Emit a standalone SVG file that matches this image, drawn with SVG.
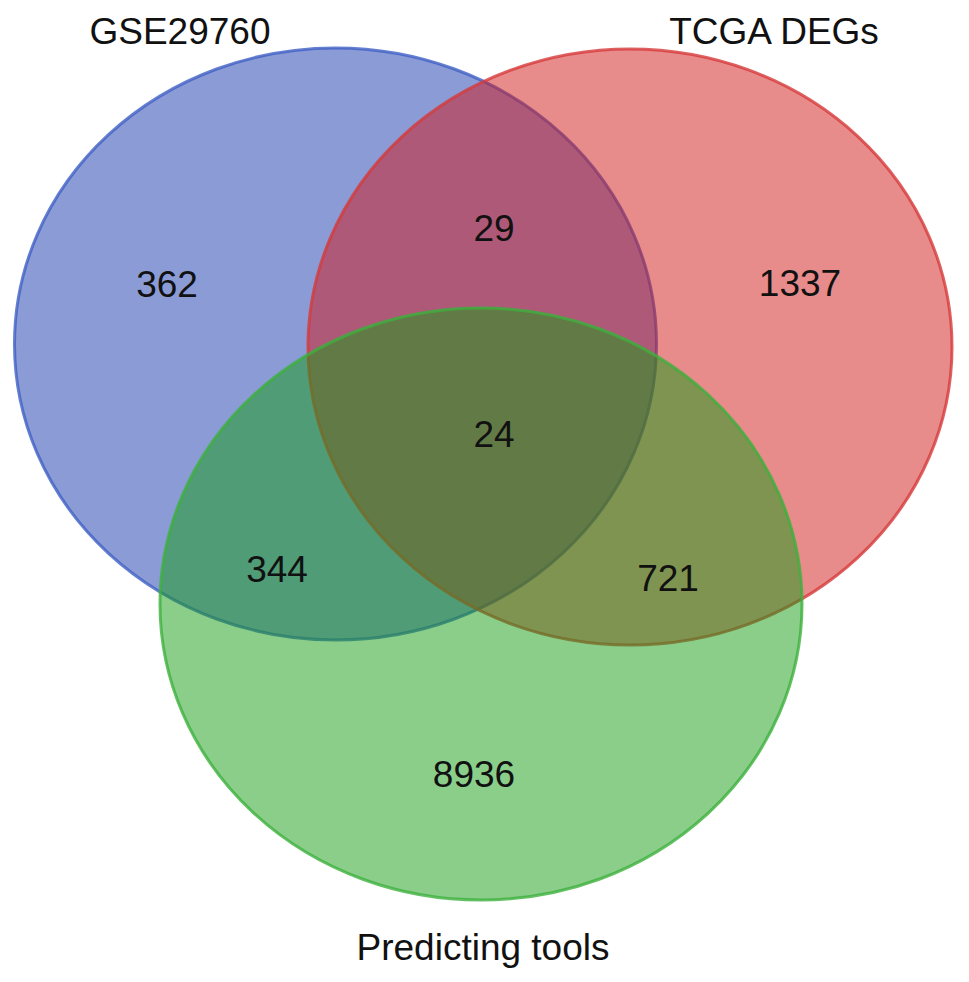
<svg xmlns="http://www.w3.org/2000/svg" width="969" height="982" viewBox="0 0 969 982">
<style>
.set{stroke-width:3}
.t{font-family:"Liberation Sans",Arial,Helvetica,sans-serif;font-size:37px;fill:#111;text-anchor:middle}
</style>
<rect width="969" height="982" fill="#fff"/>
<g id="sets">
<g id="gse29760"><ellipse class="set" cx="335.5" cy="344" rx="321" ry="296" fill="#1537ad" fill-opacity="0.5" stroke="#3f5fc4" stroke-opacity="0.8"/></g>
<g id="tcga"><ellipse class="set" cx="630" cy="347" rx="322" ry="298" fill="#d11717" fill-opacity="0.5" stroke="#d63a3a" stroke-opacity="0.8"/></g>
<g id="predicting"><ellipse class="set" cx="481" cy="604" rx="321" ry="296" fill="#159d15" fill-opacity="0.5" stroke="#3cb03c" stroke-opacity="0.8"/></g>
</g>
<g id="connectors"/>
<g id="labels">
<text class="t" x="180" y="44" font-size="38">GSE29760</text>
<text class="t" x="774" y="44" font-size="38">TCGA DEGs</text>
<text class="t" x="483" y="960">Predicting tools</text>
<text class="t" x="167" y="297">362</text>
<text class="t" x="494" y="241">29</text>
<text class="t" x="800" y="296">1337</text>
<text class="t" x="494" y="447">24</text>
<text class="t" x="277" y="582">344</text>
<text class="t" x="668" y="591">721</text>
<text class="t" x="474" y="787">8936</text>
</g>
</svg>
